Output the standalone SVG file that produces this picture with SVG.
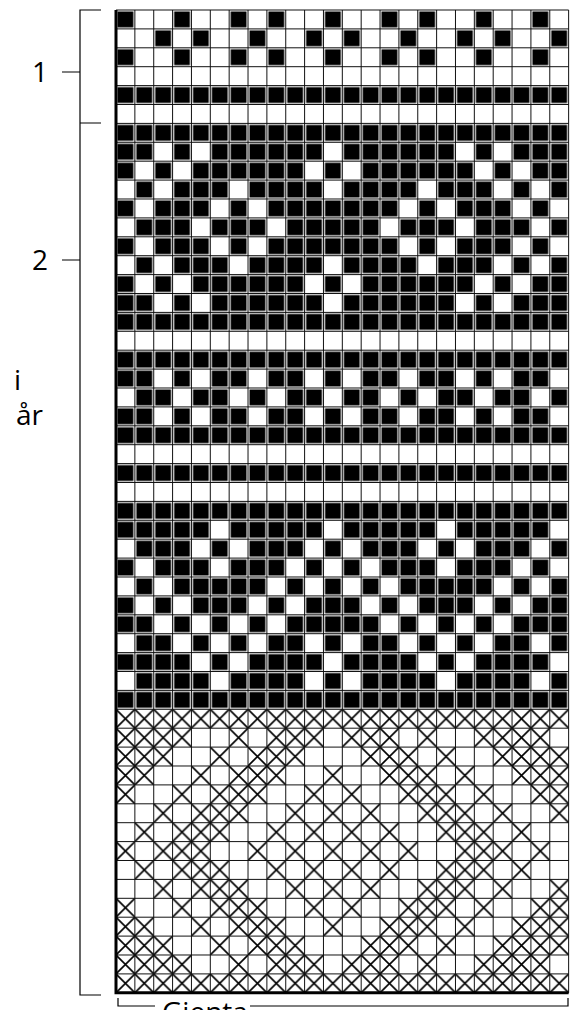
<svg xmlns="http://www.w3.org/2000/svg" width="572" height="1010" viewBox="0 0 572 1010">
<style>
.b{fill:url(#pb)}
.x{fill:url(#px)}
.lbl{font-family:"Open Sans","Noto Sans",sans-serif;font-size:28px;fill:#000}
.br{fill:none;stroke:#000;stroke-width:1.2}
</style>
<defs>
<pattern id="pb" patternUnits="userSpaceOnUse" width="1" height="1"><rect x="0.08" y="0.08" width="0.84" height="0.84" fill="#000"/></pattern>
<pattern id="px" patternUnits="userSpaceOnUse" width="1" height="1"><path d="M0 0L1 1M1 0L0 1" stroke="#000" stroke-width="0.085" fill="none"/></pattern>
</defs>
<rect x="0" y="0" width="572" height="1010" fill="#fff"/>
<g id="chart" transform="translate(116,10) scale(18.86,18.9)">
<g id="black">
<rect class="b" x="0" y="0" width="1" height="1"/><rect class="b" x="3" y="0" width="1" height="1"/><rect class="b" x="6" y="0" width="1" height="1"/><rect class="b" x="8" y="0" width="1" height="1"/><rect class="b" x="11" y="0" width="1" height="1"/><rect class="b" x="14" y="0" width="1" height="1"/><rect class="b" x="16" y="0" width="1" height="1"/><rect class="b" x="19" y="0" width="1" height="1"/><rect class="b" x="22" y="0" width="1" height="1"/>
<rect class="b" x="2" y="1" width="1" height="1"/><rect class="b" x="4" y="1" width="1" height="1"/><rect class="b" x="7" y="1" width="1" height="1"/><rect class="b" x="10" y="1" width="1" height="1"/><rect class="b" x="12" y="1" width="1" height="1"/><rect class="b" x="15" y="1" width="1" height="1"/><rect class="b" x="18" y="1" width="1" height="1"/><rect class="b" x="20" y="1" width="1" height="1"/><rect class="b" x="23" y="1" width="1" height="1"/>
<rect class="b" x="0" y="2" width="1" height="1"/><rect class="b" x="3" y="2" width="1" height="1"/><rect class="b" x="6" y="2" width="1" height="1"/><rect class="b" x="8" y="2" width="1" height="1"/><rect class="b" x="11" y="2" width="1" height="1"/><rect class="b" x="14" y="2" width="1" height="1"/><rect class="b" x="16" y="2" width="1" height="1"/><rect class="b" x="19" y="2" width="1" height="1"/><rect class="b" x="22" y="2" width="1" height="1"/>
<rect class="b" x="0" y="4" width="24" height="1"/>
<rect class="b" x="0" y="6" width="24" height="1"/>
<rect class="b" x="0" y="7" width="2" height="1"/><rect class="b" x="3" y="7" width="1" height="1"/><rect class="b" x="5" y="7" width="6" height="1"/><rect class="b" x="12" y="7" width="6" height="1"/><rect class="b" x="19" y="7" width="1" height="1"/><rect class="b" x="21" y="7" width="3" height="1"/>
<rect class="b" x="0" y="8" width="1" height="1"/><rect class="b" x="2" y="8" width="1" height="1"/><rect class="b" x="4" y="8" width="6" height="1"/><rect class="b" x="11" y="8" width="1" height="1"/><rect class="b" x="13" y="8" width="6" height="1"/><rect class="b" x="20" y="8" width="1" height="1"/><rect class="b" x="22" y="8" width="2" height="1"/>
<rect class="b" x="1" y="9" width="1" height="1"/><rect class="b" x="3" y="9" width="3" height="1"/><rect class="b" x="7" y="9" width="4" height="1"/><rect class="b" x="12" y="9" width="4" height="1"/><rect class="b" x="17" y="9" width="3" height="1"/><rect class="b" x="21" y="9" width="1" height="1"/><rect class="b" x="23" y="9" width="1" height="1"/>
<rect class="b" x="0" y="10" width="1" height="1"/><rect class="b" x="2" y="10" width="3" height="1"/><rect class="b" x="6" y="10" width="1" height="1"/><rect class="b" x="8" y="10" width="7" height="1"/><rect class="b" x="16" y="10" width="1" height="1"/><rect class="b" x="18" y="10" width="3" height="1"/><rect class="b" x="22" y="10" width="1" height="1"/>
<rect class="b" x="1" y="11" width="3" height="1"/><rect class="b" x="5" y="11" width="3" height="1"/><rect class="b" x="9" y="11" width="5" height="1"/><rect class="b" x="15" y="11" width="3" height="1"/><rect class="b" x="19" y="11" width="3" height="1"/><rect class="b" x="23" y="11" width="1" height="1"/>
<rect class="b" x="0" y="12" width="1" height="1"/><rect class="b" x="2" y="12" width="3" height="1"/><rect class="b" x="6" y="12" width="1" height="1"/><rect class="b" x="8" y="12" width="7" height="1"/><rect class="b" x="16" y="12" width="1" height="1"/><rect class="b" x="18" y="12" width="3" height="1"/><rect class="b" x="22" y="12" width="1" height="1"/>
<rect class="b" x="1" y="13" width="1" height="1"/><rect class="b" x="3" y="13" width="3" height="1"/><rect class="b" x="7" y="13" width="4" height="1"/><rect class="b" x="12" y="13" width="4" height="1"/><rect class="b" x="17" y="13" width="3" height="1"/><rect class="b" x="21" y="13" width="1" height="1"/><rect class="b" x="23" y="13" width="1" height="1"/>
<rect class="b" x="0" y="14" width="1" height="1"/><rect class="b" x="2" y="14" width="1" height="1"/><rect class="b" x="4" y="14" width="6" height="1"/><rect class="b" x="11" y="14" width="1" height="1"/><rect class="b" x="13" y="14" width="6" height="1"/><rect class="b" x="20" y="14" width="1" height="1"/><rect class="b" x="22" y="14" width="2" height="1"/>
<rect class="b" x="0" y="15" width="2" height="1"/><rect class="b" x="3" y="15" width="1" height="1"/><rect class="b" x="5" y="15" width="6" height="1"/><rect class="b" x="12" y="15" width="6" height="1"/><rect class="b" x="19" y="15" width="1" height="1"/><rect class="b" x="21" y="15" width="3" height="1"/>
<rect class="b" x="0" y="16" width="24" height="1"/>
<rect class="b" x="0" y="18" width="24" height="1"/>
<rect class="b" x="0" y="19" width="2" height="1"/><rect class="b" x="3" y="19" width="1" height="1"/><rect class="b" x="5" y="19" width="2" height="1"/><rect class="b" x="8" y="19" width="2" height="1"/><rect class="b" x="11" y="19" width="1" height="1"/><rect class="b" x="13" y="19" width="2" height="1"/><rect class="b" x="16" y="19" width="2" height="1"/><rect class="b" x="19" y="19" width="1" height="1"/><rect class="b" x="21" y="19" width="2" height="1"/>
<rect class="b" x="1" y="20" width="2" height="1"/><rect class="b" x="4" y="20" width="2" height="1"/><rect class="b" x="7" y="20" width="1" height="1"/><rect class="b" x="9" y="20" width="2" height="1"/><rect class="b" x="12" y="20" width="2" height="1"/><rect class="b" x="15" y="20" width="1" height="1"/><rect class="b" x="17" y="20" width="2" height="1"/><rect class="b" x="20" y="20" width="2" height="1"/><rect class="b" x="23" y="20" width="1" height="1"/>
<rect class="b" x="0" y="21" width="2" height="1"/><rect class="b" x="3" y="21" width="1" height="1"/><rect class="b" x="5" y="21" width="2" height="1"/><rect class="b" x="8" y="21" width="2" height="1"/><rect class="b" x="11" y="21" width="1" height="1"/><rect class="b" x="13" y="21" width="2" height="1"/><rect class="b" x="16" y="21" width="2" height="1"/><rect class="b" x="19" y="21" width="1" height="1"/><rect class="b" x="21" y="21" width="2" height="1"/>
<rect class="b" x="0" y="22" width="24" height="1"/>
<rect class="b" x="0" y="24" width="24" height="1"/>
<rect class="b" x="0" y="26" width="24" height="1"/>
<rect class="b" x="0" y="27" width="5" height="1"/><rect class="b" x="6" y="27" width="5" height="1"/><rect class="b" x="12" y="27" width="5" height="1"/><rect class="b" x="18" y="27" width="5" height="1"/>
<rect class="b" x="1" y="28" width="3" height="1"/><rect class="b" x="5" y="28" width="1" height="1"/><rect class="b" x="7" y="28" width="3" height="1"/><rect class="b" x="11" y="28" width="1" height="1"/><rect class="b" x="13" y="28" width="3" height="1"/><rect class="b" x="17" y="28" width="1" height="1"/><rect class="b" x="19" y="28" width="3" height="1"/><rect class="b" x="23" y="28" width="1" height="1"/>
<rect class="b" x="0" y="29" width="1" height="1"/><rect class="b" x="2" y="29" width="3" height="1"/><rect class="b" x="6" y="29" width="3" height="1"/><rect class="b" x="10" y="29" width="1" height="1"/><rect class="b" x="12" y="29" width="1" height="1"/><rect class="b" x="14" y="29" width="3" height="1"/><rect class="b" x="18" y="29" width="3" height="1"/><rect class="b" x="22" y="29" width="1" height="1"/>
<rect class="b" x="1" y="30" width="1" height="1"/><rect class="b" x="3" y="30" width="5" height="1"/><rect class="b" x="9" y="30" width="1" height="1"/><rect class="b" x="11" y="30" width="1" height="1"/><rect class="b" x="13" y="30" width="1" height="1"/><rect class="b" x="15" y="30" width="5" height="1"/><rect class="b" x="21" y="30" width="1" height="1"/><rect class="b" x="23" y="30" width="1" height="1"/>
<rect class="b" x="0" y="31" width="1" height="1"/><rect class="b" x="2" y="31" width="1" height="1"/><rect class="b" x="4" y="31" width="3" height="1"/><rect class="b" x="8" y="31" width="1" height="1"/><rect class="b" x="10" y="31" width="3" height="1"/><rect class="b" x="14" y="31" width="1" height="1"/><rect class="b" x="16" y="31" width="3" height="1"/><rect class="b" x="20" y="31" width="1" height="1"/><rect class="b" x="22" y="31" width="2" height="1"/>
<rect class="b" x="0" y="32" width="2" height="1"/><rect class="b" x="3" y="32" width="1" height="1"/><rect class="b" x="5" y="32" width="1" height="1"/><rect class="b" x="7" y="32" width="1" height="1"/><rect class="b" x="9" y="32" width="5" height="1"/><rect class="b" x="15" y="32" width="1" height="1"/><rect class="b" x="17" y="32" width="1" height="1"/><rect class="b" x="19" y="32" width="1" height="1"/><rect class="b" x="21" y="32" width="3" height="1"/>
<rect class="b" x="1" y="33" width="2" height="1"/><rect class="b" x="4" y="33" width="1" height="1"/><rect class="b" x="6" y="33" width="1" height="1"/><rect class="b" x="8" y="33" width="2" height="1"/><rect class="b" x="11" y="33" width="1" height="1"/><rect class="b" x="13" y="33" width="2" height="1"/><rect class="b" x="16" y="33" width="1" height="1"/><rect class="b" x="18" y="33" width="1" height="1"/><rect class="b" x="20" y="33" width="2" height="1"/><rect class="b" x="23" y="33" width="1" height="1"/>
<rect class="b" x="0" y="34" width="4" height="1"/><rect class="b" x="5" y="34" width="1" height="1"/><rect class="b" x="7" y="34" width="4" height="1"/><rect class="b" x="12" y="34" width="4" height="1"/><rect class="b" x="17" y="34" width="1" height="1"/><rect class="b" x="19" y="34" width="4" height="1"/>
<rect class="b" x="1" y="35" width="4" height="1"/><rect class="b" x="6" y="35" width="4" height="1"/><rect class="b" x="11" y="35" width="1" height="1"/><rect class="b" x="13" y="35" width="4" height="1"/><rect class="b" x="18" y="35" width="4" height="1"/><rect class="b" x="23" y="35" width="1" height="1"/>
<rect class="b" x="0" y="36" width="24" height="1"/>
</g>
<g id="crosses">
<rect class="x" x="0" y="37" width="24" height="1"/>
<rect class="x" x="0" y="38" width="4" height="1"/><rect class="x" x="6" y="38" width="1" height="1"/><rect class="x" x="8" y="38" width="3" height="1"/><rect class="x" x="12" y="38" width="3" height="1"/><rect class="x" x="16" y="38" width="1" height="1"/><rect class="x" x="19" y="38" width="4" height="1"/>
<rect class="x" x="0" y="39" width="3" height="1"/><rect class="x" x="5" y="39" width="1" height="1"/><rect class="x" x="7" y="39" width="3" height="1"/><rect class="x" x="13" y="39" width="3" height="1"/><rect class="x" x="17" y="39" width="1" height="1"/><rect class="x" x="20" y="39" width="4" height="1"/>
<rect class="x" x="0" y="40" width="2" height="1"/><rect class="x" x="4" y="40" width="1" height="1"/><rect class="x" x="6" y="40" width="3" height="1"/><rect class="x" x="11" y="40" width="1" height="1"/><rect class="x" x="14" y="40" width="3" height="1"/><rect class="x" x="18" y="40" width="1" height="1"/><rect class="x" x="21" y="40" width="3" height="1"/>
<rect class="x" x="0" y="41" width="1" height="1"/><rect class="x" x="3" y="41" width="1" height="1"/><rect class="x" x="5" y="41" width="3" height="1"/><rect class="x" x="10" y="41" width="1" height="1"/><rect class="x" x="12" y="41" width="1" height="1"/><rect class="x" x="15" y="41" width="3" height="1"/><rect class="x" x="19" y="41" width="1" height="1"/><rect class="x" x="22" y="41" width="2" height="1"/>
<rect class="x" x="2" y="42" width="1" height="1"/><rect class="x" x="4" y="42" width="3" height="1"/><rect class="x" x="9" y="42" width="1" height="1"/><rect class="x" x="11" y="42" width="1" height="1"/><rect class="x" x="13" y="42" width="1" height="1"/><rect class="x" x="16" y="42" width="3" height="1"/><rect class="x" x="20" y="42" width="1" height="1"/><rect class="x" x="23" y="42" width="1" height="1"/>
<rect class="x" x="1" y="43" width="1" height="1"/><rect class="x" x="3" y="43" width="3" height="1"/><rect class="x" x="8" y="43" width="1" height="1"/><rect class="x" x="10" y="43" width="1" height="1"/><rect class="x" x="12" y="43" width="1" height="1"/><rect class="x" x="14" y="43" width="1" height="1"/><rect class="x" x="17" y="43" width="3" height="1"/><rect class="x" x="21" y="43" width="1" height="1"/>
<rect class="x" x="0" y="44" width="1" height="1"/><rect class="x" x="2" y="44" width="3" height="1"/><rect class="x" x="7" y="44" width="1" height="1"/><rect class="x" x="9" y="44" width="1" height="1"/><rect class="x" x="11" y="44" width="1" height="1"/><rect class="x" x="13" y="44" width="1" height="1"/><rect class="x" x="15" y="44" width="1" height="1"/><rect class="x" x="18" y="44" width="3" height="1"/><rect class="x" x="22" y="44" width="1" height="1"/>
<rect class="x" x="1" y="45" width="1" height="1"/><rect class="x" x="3" y="45" width="3" height="1"/><rect class="x" x="8" y="45" width="1" height="1"/><rect class="x" x="10" y="45" width="1" height="1"/><rect class="x" x="12" y="45" width="1" height="1"/><rect class="x" x="14" y="45" width="1" height="1"/><rect class="x" x="17" y="45" width="3" height="1"/><rect class="x" x="21" y="45" width="1" height="1"/>
<rect class="x" x="2" y="46" width="1" height="1"/><rect class="x" x="4" y="46" width="3" height="1"/><rect class="x" x="9" y="46" width="1" height="1"/><rect class="x" x="11" y="46" width="1" height="1"/><rect class="x" x="13" y="46" width="1" height="1"/><rect class="x" x="16" y="46" width="3" height="1"/><rect class="x" x="20" y="46" width="1" height="1"/><rect class="x" x="23" y="46" width="1" height="1"/>
<rect class="x" x="0" y="47" width="1" height="1"/><rect class="x" x="3" y="47" width="1" height="1"/><rect class="x" x="5" y="47" width="3" height="1"/><rect class="x" x="10" y="47" width="1" height="1"/><rect class="x" x="12" y="47" width="1" height="1"/><rect class="x" x="15" y="47" width="3" height="1"/><rect class="x" x="19" y="47" width="1" height="1"/><rect class="x" x="22" y="47" width="2" height="1"/>
<rect class="x" x="0" y="48" width="2" height="1"/><rect class="x" x="4" y="48" width="1" height="1"/><rect class="x" x="6" y="48" width="3" height="1"/><rect class="x" x="11" y="48" width="1" height="1"/><rect class="x" x="14" y="48" width="3" height="1"/><rect class="x" x="18" y="48" width="1" height="1"/><rect class="x" x="21" y="48" width="3" height="1"/>
<rect class="x" x="0" y="49" width="3" height="1"/><rect class="x" x="5" y="49" width="1" height="1"/><rect class="x" x="7" y="49" width="3" height="1"/><rect class="x" x="13" y="49" width="3" height="1"/><rect class="x" x="17" y="49" width="1" height="1"/><rect class="x" x="20" y="49" width="4" height="1"/>
<rect class="x" x="0" y="50" width="4" height="1"/><rect class="x" x="6" y="50" width="1" height="1"/><rect class="x" x="8" y="50" width="3" height="1"/><rect class="x" x="12" y="50" width="3" height="1"/><rect class="x" x="16" y="50" width="1" height="1"/><rect class="x" x="19" y="50" width="4" height="1"/>
<rect class="x" x="0" y="51" width="24" height="1"/>
</g>
<path id="gridlines" fill="none" stroke="#111" stroke-width="1" vector-effect="non-scaling-stroke" d="M0 0V52M1 0V52M2 0V52M3 0V52M4 0V52M5 0V52M6 0V52M7 0V52M8 0V52M9 0V52M10 0V52M11 0V52M12 0V52M13 0V52M14 0V52M15 0V52M16 0V52M17 0V52M18 0V52M19 0V52M20 0V52M21 0V52M22 0V52M23 0V52M24 0V52M0 0H24M0 1H24M0 2H24M0 3H24M0 4H24M0 5H24M0 6H24M0 7H24M0 8H24M0 9H24M0 10H24M0 11H24M0 12H24M0 13H24M0 14H24M0 15H24M0 16H24M0 17H24M0 18H24M0 19H24M0 20H24M0 21H24M0 22H24M0 23H24M0 24H24M0 25H24M0 26H24M0 27H24M0 28H24M0 29H24M0 30H24M0 31H24M0 32H24M0 33H24M0 34H24M0 35H24M0 36H24M0 37H24M0 38H24M0 39H24M0 40H24M0 41H24M0 42H24M0 43H24M0 44H24M0 45H24M0 46H24M0 47H24M0 48H24M0 49H24M0 50H24M0 51H24M0 52H24"/>
</g>
<path id="frame" d="M116 10V992.8H568.6" fill="none" stroke="#000" stroke-width="3"/>
<g id="brackets">
<path class="br" d="M101 10H80V995H101M80 123H101M62 72H80M62 260H80"/>
<path class="br" d="M118 998V1006H155M250 1006H568V998"/>
</g>
<g id="labels">
<text class="lbl" x="40" y="82" text-anchor="middle">1</text>
<text class="lbl" x="40" y="270" text-anchor="middle">2</text>
<text class="lbl" x="14" y="390">i</text>
<text class="lbl" x="16" y="425">år</text>
<text class="lbl" x="162" y="1022">Gjenta</text>
</g>
</svg>
